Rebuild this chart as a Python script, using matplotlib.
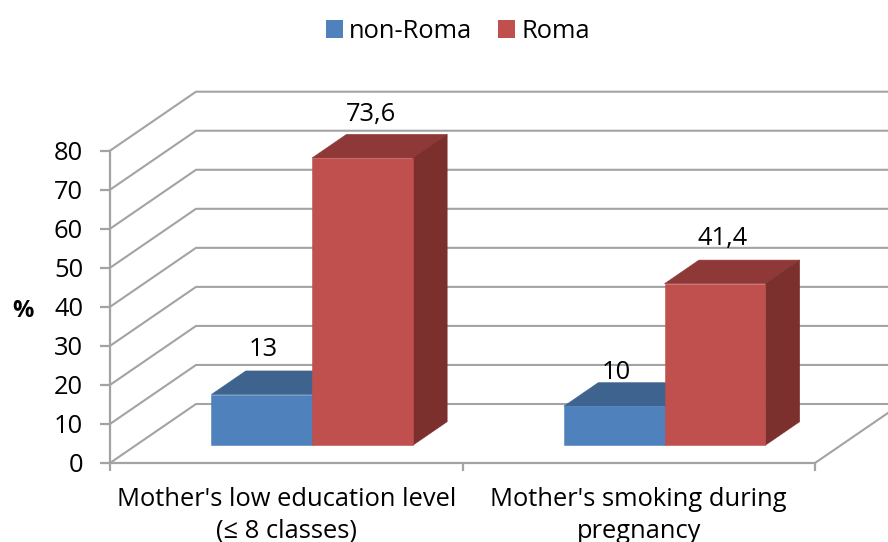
import matplotlib
matplotlib.use("Agg")
import matplotlib.pyplot as plt
from matplotlib.patches import Patch

plt.rcParams['font.family'] = ['Open Sans', 'DejaVu Sans']

# Datos
categorias = ["Mother's low education level\n(≤ 8 classes)", "Mother's smoking during\npregnancy"]
series = ["non-Roma", "Roma"]
non_roma = [13, 10]
roma = [73.6, 41.4]
etiquetas_non_roma = ["13", "10"]
etiquetas_roma = ["73,6", "41,4"]
ticks_y = [0, 10, 20, 30, 40, 50, 60, 70, 80]

# Colores: frente, arriba, lado
azul = ("#4F81BD", "#3E638F", "#3E638F")
rojo = ("#C0504D", "#8E3938", "#7B302E")
gris = "#A3A3A3"
tam = 18.4

# Perspectiva: desplazamiento de la pared del fondo, en unidades de datos
fondo_x = 86 / 352.5
fondo_y = 59 / 3.904
ancho_barra = 0.2857
margen = 0.2143
d0, d1 = 0.3, 0.7


def proyectar(x, y, d):
    return x + d * fondo_x, y + d * fondo_y


def poligono(ax, puntos, color, z):
    xy = [proyectar(*p) for p in puntos]
    ax.fill([p[0] for p in xy], [p[1] for p in xy], facecolor=color, edgecolor=color,
            linewidth=0.4, zorder=z, clip_on=False)


def barra(ax, x, valor, colores, z):
    x2 = x + ancho_barra
    poligono(ax, [(x, 0, d0), (x2, 0, d0), (x2, valor, d0), (x, valor, d0)], colores[0], z + 0.2)
    poligono(ax, [(x, valor, d0), (x2, valor, d0), (x2, valor, d1), (x, valor, d1)], colores[1], z)
    poligono(ax, [(x2, 0, d0), (x2, 0, d1), (x2, valor, d1), (x2, valor, d0)], colores[2], z + 0.1)


fig = plt.figure(figsize=(8.88, 5.42), dpi=100)
ax = fig.add_axes([110 / 888, 1 - 463 / 542, 705 / 888, 312.3 / 542])
ax.set_xlim(0, 2)
ax.set_ylim(0, 80)

# Paredes
for v in ticks_y:
    x0, y0 = proyectar(0, v, 0)
    x1, y1 = proyectar(0, v, 1)
    x2, y2 = proyectar(2, v, 1)
    ax.plot([x0, x1, x2], [y0, y1, y2], color=gris, lw=1.5, zorder=1, clip_on=False)
x0, y0 = proyectar(2, 0, 0)
x1, y1 = proyectar(2, 0, 1)
ax.plot([x0, x1], [y0, y1], color=gris, lw=1.5, zorder=1, clip_on=False)

# Barras
for i in range(len(categorias)):
    barra(ax, i + margen, non_roma[i], azul, 2)
    barra(ax, i + margen + ancho_barra, roma[i], rojo, 3)

# Etiquetas de valores, desplazadas en pixeles desde el borde trasero de la barra
desp_non_roma = [(1.5, 21), (2, 10)]
desp_roma = [(9, 20), (8, 22)]
for i in range(len(categorias)):
    xa, ya = proyectar(i + margen + ancho_barra / 2, non_roma[i], d1)
    xa -= (d1 - d0) * fondo_x
    ax.annotate(etiquetas_non_roma[i], (xa, ya), xytext=(desp_non_roma[i][0] * 0.72, desp_non_roma[i][1] * 0.72),
                textcoords="offset points", ha="center", va="center", fontsize=tam, color="black", zorder=6,
                annotation_clip=False)
    xb, yb = proyectar(i + margen + ancho_barra * 1.5, roma[i], d1)
    xb -= (d1 - d0) * fondo_x
    ax.annotate(etiquetas_roma[i], (xb, yb), xytext=(desp_roma[i][0] * 0.72, desp_roma[i][1] * 0.72),
                textcoords="offset points", ha="center", va="center", fontsize=tam, color="black", zorder=6,
                annotation_clip=False)

# Ejes
for lado in ["top", "right"]:
    ax.spines[lado].set_visible(False)
for lado in ["left", "bottom"]:
    ax.spines[lado].set_color(gris)
    ax.spines[lado].set_linewidth(1.6)
ax.set_yticks(ticks_y)
ax.set_xticks([0, 1, 2])
ax.set_xticklabels([])
ax.set_xticks([0.5, 1.5], minor=True)
ax.set_xticklabels(categorias, minor=True, fontsize=tam, linespacing=1.37)
ax.tick_params(axis="y", color=gris, width=1.6, length=7, labelsize=tam, pad=12.3)
ax.tick_params(axis="x", which="major", color=gris, width=1.6, length=6)
ax.tick_params(axis="x", which="minor", length=0, pad=17)
ax.set_ylabel("%", rotation=0, fontsize=17, fontweight="bold", va="center", ha="center")
ax.yaxis.set_label_coords(-87 / 705, 0.487)

# Leyenda
manijas = [Patch(facecolor=azul[0], label=series[0]), Patch(facecolor=rojo[0], label=series[1])]
fig.legend(handles=manijas, loc="upper center", bbox_to_anchor=(458 / 888, 1 + 4 / 542), ncol=2, frameon=False,
           fontsize=tam, handlelength=0.66, handleheight=0.66, handletextpad=0.25, columnspacing=1.0)

fig.savefig("out.png", dpi=100)
